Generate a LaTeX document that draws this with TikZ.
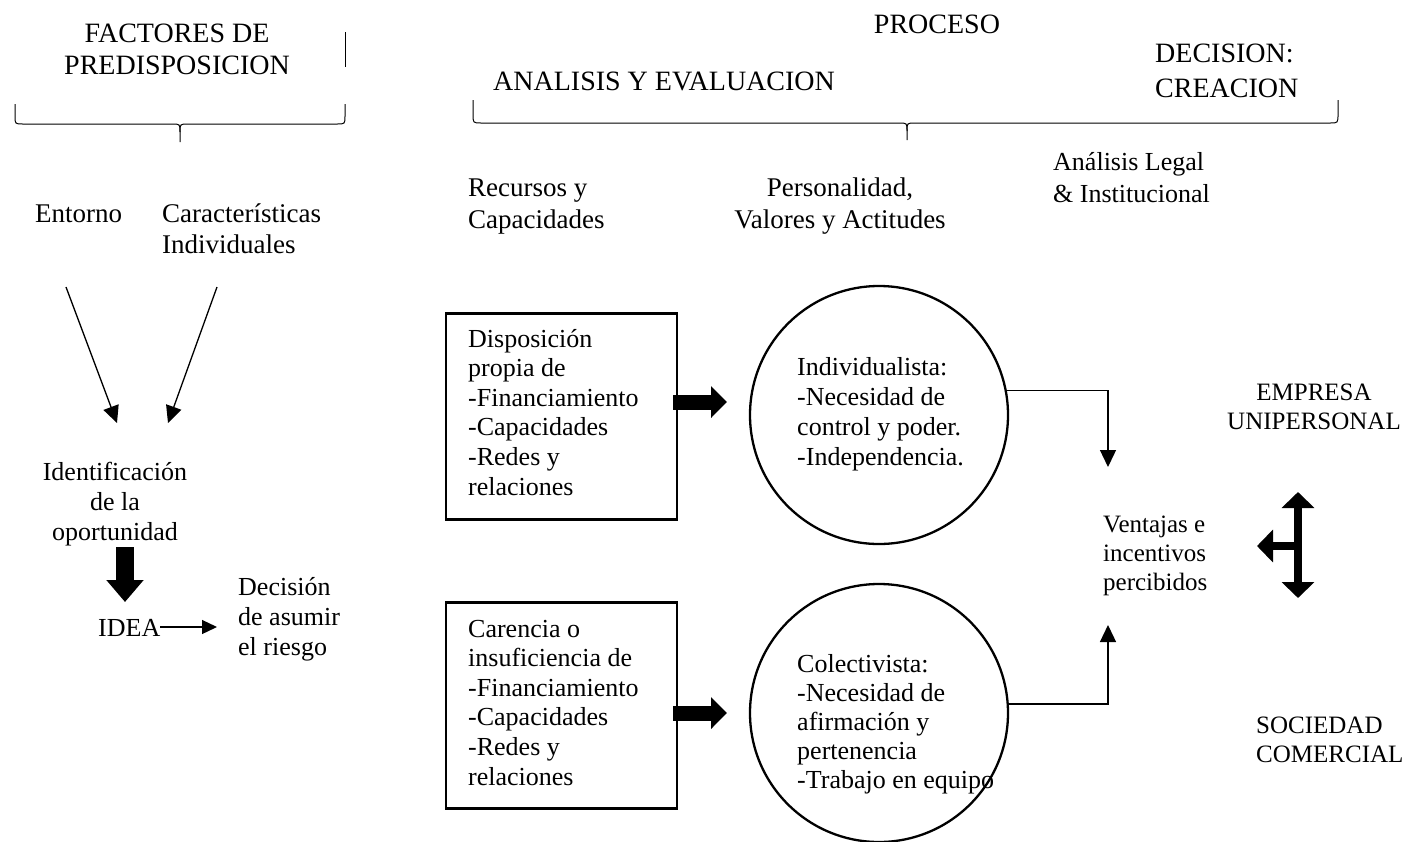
\documentclass[tikz,border=0pt]{standalone}
\usepackage{fontspec}
\setmainfont{Liberation Serif}
\usetikzlibrary{arrows.meta}
\begin{document}
\begin{tikzpicture}[x=1pt,y=-1pt,
  head/.style={font=\fontsize{28}{32}\selectfont, inner sep=0pt},
  colhead/.style={font=\fontsize{27}{32}\selectfont, inner sep=0pt, align=left},
  body/.style={font=\fontsize{26}{30}\selectfont, inner sep=0pt, align=left},
  boxtext/.style={font=\fontsize{26}{29.6}\selectfont, inner sep=0pt, align=left},
  small/.style={font=\fontsize{25}{29}\selectfont, inner sep=0pt, align=left},
  brace/.style={line width=1pt},
  boxnode/.style={draw, line width=2.3pt, minimum width=231pt, minimum height=206pt, inner sep=0pt},
  ringnode/.style={draw, circle, line width=2.3pt, minimum size=258pt, inner sep=0pt},
  thinarr/.style={line width=1.3pt, -{Triangle[length=17pt,width=16pt]}},
  smallarr/.style={line width=1.3pt, -{Triangle[length=15pt,width=14pt]}},
  blockarr/.style={line width=15pt, -{Triangle[length=16pt,width=31pt]}},
  downarr/.style={line width=18pt, -{Triangle[length=22pt,width=36pt]}},
  tripleline/.style={line width=8pt, {Triangle[length=16pt,width=32pt]}-{Triangle[length=16pt,width=32pt]}},
  tripleleft/.style={line width=8pt, -{Triangle[length=16pt,width=32pt]}}
]
\useasboundingbox (0,0) rectangle (1406,841);

% headers
\node[head, anchor=base, align=center] (fact) at (177,74) {FACTORES DE\\PREDISPOSICION};
\coordinate (vl1) at (345,32);
\coordinate (vl2) at (345,67);
\draw[line width=1pt] (vl1) -- (vl2);
\node[head, anchor=base] (proc) at (937,33) {PROCESO};
\node[head, anchor=base west] (anev) at (493,90) {ANALISIS Y EVALUACION};
\node[head, font=\fontsize{28}{35}\selectfont, anchor=base west, align=left] (dec) at (1155,97) {DECISION:\\CREACION};

% braces
\draw[brace] (15,104) -- (15,116) .. controls (15,124) .. (23,124) -- (172,124) .. controls (180,124) .. (180,132) -- (180,142);
\draw[brace] (345,104) -- (345,116) .. controls (345,124) .. (337,124) -- (188,124) .. controls (180,124) .. (180,132);
\draw[brace] (473,100) -- (473,114) .. controls (473,123) .. (481,123) -- (899,123) .. controls (907,123) .. (907,131) -- (907,140);
\draw[brace] (1338,100) -- (1338,114) .. controls (1338,123) .. (1330,123) -- (915,123) .. controls (907,123) .. (907,131);

% column headers
\node[colhead, anchor=base west] (recu) at (468,228) {Recursos y\\Capacidades};
\node[colhead, anchor=base, align=center] (pers) at (840,228) {Personalidad,\\Valores y Actitudes};
\node[body, font=\fontsize{26}{32}\selectfont, anchor=base west] (legal) at (1053,202) {Análisis Legal\\\& Institucional};

% left part
\node[colhead, anchor=base west] (ent) at (35,222) {Entorno};
\node[colhead, font=\fontsize{27}{31}\selectfont, anchor=base west] (car) at (162,253) {Características\\Individuales};
\coordinate (e1) at (66,287);
\coordinate (e2) at (117,423);
\coordinate (k1) at (217,287);
\coordinate (k2) at (168,423);
\draw[thinarr] (e1) -- (e2);
\draw[thinarr] (k1) -- (k2);
\node[body, anchor=base, align=center] (iden) at (115,540) {Identificación\\de la\\oportunidad};
\coordinate (d1) at (125,547);
\coordinate (d2) at (125,602);
\draw[downarr] (d1) -- (d2);
\node[body, anchor=base west] (idea) at (98,636) {IDEA};
\node[body, anchor=base west] (asum) at (238,655) {Decisión\\de asumir\\el riesgo};
\coordinate (i2) at (217,627);
\draw[smallarr] (idea.east |- i2) -- (i2);

% boxes
\node[boxnode] (b1) at (561.5,416.5) {};
\node[boxnode] (b2) at (561.5,705.5) {};
\node[boxtext, anchor=base west] (b1t) at (468,495) {Disposición\\propia de\\-Financiamiento\\-Capacidades\\-Redes y\\relaciones};
\node[boxtext, anchor=base west] (b2t) at (468,785) {Carencia o\\insuficiencia de\\-Financiamiento\\-Capacidades\\-Redes y\\relaciones};

% circles
\node[ringnode] (c1) at (879,415) {};
\node[ringnode] (c2) at (879,713) {};
\node[body, anchor=base west] (c1t) at (797,465) {Individualista:\\-Necesidad de\\control y poder.\\-Independencia.};
\node[body, font=\fontsize{26}{29}\selectfont, anchor=base west] (c2t) at (797,788) {Colectivista:\\-Necesidad de\\afirmación y\\pertenencia\\-Trabajo en equipo};

% block arrows
\coordinate (a1s) at (673,402);
\coordinate (a1e) at (727,402);
\coordinate (a2s) at (673,713);
\coordinate (a2e) at (727,713);
\draw[blockarr] (a1s) -- (a1e);
\draw[blockarr] (a2s) -- (a2e);

% connectors to Ventajas
\coordinate (t1) at (1108,467);
\coordinate (t2) at (1108,625);
\draw[thinarr] (c1.11) -| (t1);
\draw[thinarr] (c2.4) -| (t2);
\node[small, anchor=base west] (vent) at (1103,590) {Ventajas e\\incentivos\\percibidos};

% right side
\node[small, anchor=base, align=center] (emp) at (1314,429) {EMPRESA\\UNIPERSONAL};
\node[small, anchor=base west] (soc) at (1256,762) {SOCIEDAD\\COMERCIAL};
\coordinate (v1) at (1298,492);
\coordinate (v2) at (1298,598);
\coordinate (h1) at (1298,546);
\coordinate (h2) at (1257,546);
\draw[tripleline] (v1) -- (v2);
\draw[tripleleft] (h1) -- (h2);
\end{tikzpicture}
\end{document}
